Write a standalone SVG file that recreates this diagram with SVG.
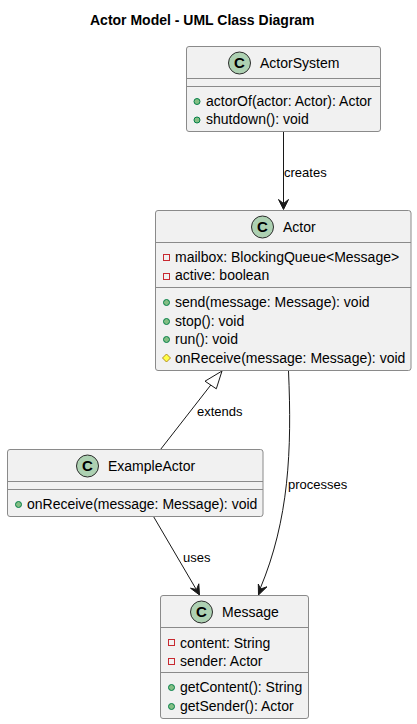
<svg xmlns="http://www.w3.org/2000/svg" width="417" height="724" viewBox="0 0 417 724">
<style>
text{font-family:"Liberation Sans",Arial,sans-serif;font-size:14px;fill:#000}
.t{font-weight:bold}
.l{font-size:13px}
.box{fill:#F1F1F1;stroke:#8A8A8A;stroke-width:1}
.sep{stroke:#8A8A8A;stroke-width:1}
.c{fill:#ADD1B2;stroke:#2B2B2B;stroke-width:1}
.g{font-weight:bold;font-size:15px;text-anchor:middle}
.pub{fill:#84BE84;stroke:#038048;stroke-width:1}
.pri{fill:none;stroke:#C82930;stroke-width:1}
.pro{fill:#FFFF44;stroke:#B38D22;stroke-width:1}
.e{fill:none;stroke:#181818;stroke-width:1}
.h{fill:#181818;stroke:#181818;stroke-width:1}
.o{fill:none;stroke:#181818;stroke-width:1}
</style>
<text class="t" x="90" y="25">Actor Model - UML Class Diagram</text>
<g id="connectors">
<path class="e" d="M283.5 131.5V203"/>
<path class="h" d="M283.5 209.5L278.5 199.5L283.5 203.5L288.5 199.5Z"/>
<text class="l" x="284" y="177">creates</text>
<path class="e" d="M160.5 449.5L210.8 385"/>
<path class="o" d="M222 371L205 381.2L216.3 388.8Z"/>
<text class="l" x="197" y="416">extends</text>
<path class="e" d="M288.5 371C292 450 289 520 260 589"/>
<path class="h" d="M258.5 595L258.3 584L260.5 589L267 586.8Z"/>
<text class="l" x="288" y="489">processes</text>
<path class="e" d="M153.5 516.5L196 589"/>
<path class="h" d="M199.5 595L190.5 588.2L196.5 589.5L198.8 583.8Z"/>
<text class="l" x="183" y="562">uses</text>
</g>
<g id="ActorSystem">
<rect class="box" x="186.5" y="46.5" width="194" height="85" rx="2.5"/>
<path class="sep" d="M186.5 78.5H380.5M186.5 86.5H380.5"/>
<circle class="c" cx="239.5" cy="63" r="11"/>
<text class="g" x="239.5" y="68">C</text>
<text x="260" y="68">ActorSystem</text>
<circle class="pub" cx="197" cy="101.5" r="3"/>
<text x="206" y="106">actorOf(actor: Actor): Actor</text>
<circle class="pub" cx="197" cy="120" r="3"/>
<text x="206" y="124">shutdown(): void</text>
</g>
<g id="Actor">
<rect class="box" x="155.5" y="210.5" width="255.5" height="160" rx="2.5"/>
<path class="sep" d="M155.5 242.5H411M155.5 287.5H411"/>
<circle class="c" cx="262.5" cy="227" r="11"/>
<text class="g" x="262.5" y="232">C</text>
<text x="283" y="232">Actor</text>
<rect class="pri" x="163.5" y="254.5" width="6" height="6"/>
<text x="175" y="262">mailbox: BlockingQueue&lt;Message&gt;</text>
<rect class="pri" x="163.5" y="273.5" width="6" height="6"/>
<text x="175" y="280">active: boolean</text>
<circle class="pub" cx="166.5" cy="302.5" r="3"/>
<text x="175" y="307">send(message: Message): void</text>
<circle class="pub" cx="166.5" cy="321.5" r="3"/>
<text x="175" y="326">stop(): void</text>
<circle class="pub" cx="166.5" cy="339.5" r="3"/>
<text x="175" y="344">run(): void</text>
<path class="pro" d="M166.5 354L170.5 358L166.5 362L162.5 358Z"/>
<text x="175" y="363">onReceive(message: Message): void</text>
</g>
<g id="ExampleActor">
<rect class="box" x="7.5" y="449.5" width="255.5" height="67" rx="2.5"/>
<path class="sep" d="M7.5 481.5H263M7.5 489.5H263"/>
<circle class="c" cx="87.5" cy="466" r="11"/>
<text class="g" x="87.5" y="471">C</text>
<text x="108" y="471">ExampleActor</text>
<circle class="pub" cx="18.5" cy="504.5" r="3"/>
<text x="27" y="509">onReceive(message: Message): void</text>
</g>
<g id="Message">
<rect class="box" x="160.5" y="595.5" width="148" height="123" rx="2.5"/>
<path class="sep" d="M160.5 627.5H308.5M160.5 672.5H308.5"/>
<circle class="c" cx="201.5" cy="612" r="11"/>
<text class="g" x="201.5" y="617">C</text>
<text x="222" y="617">Message</text>
<rect class="pri" x="168.5" y="639.5" width="6" height="6"/>
<text x="180" y="648">content: String</text>
<rect class="pri" x="168.5" y="658.5" width="6" height="6"/>
<text x="180" y="666">sender: Actor</text>
<circle class="pub" cx="171.5" cy="687.5" r="3"/>
<text x="180" y="692">getContent(): String</text>
<circle class="pub" cx="171.5" cy="706.5" r="3"/>
<text x="180" y="711">getSender(): Actor</text>
</g>
</svg>
